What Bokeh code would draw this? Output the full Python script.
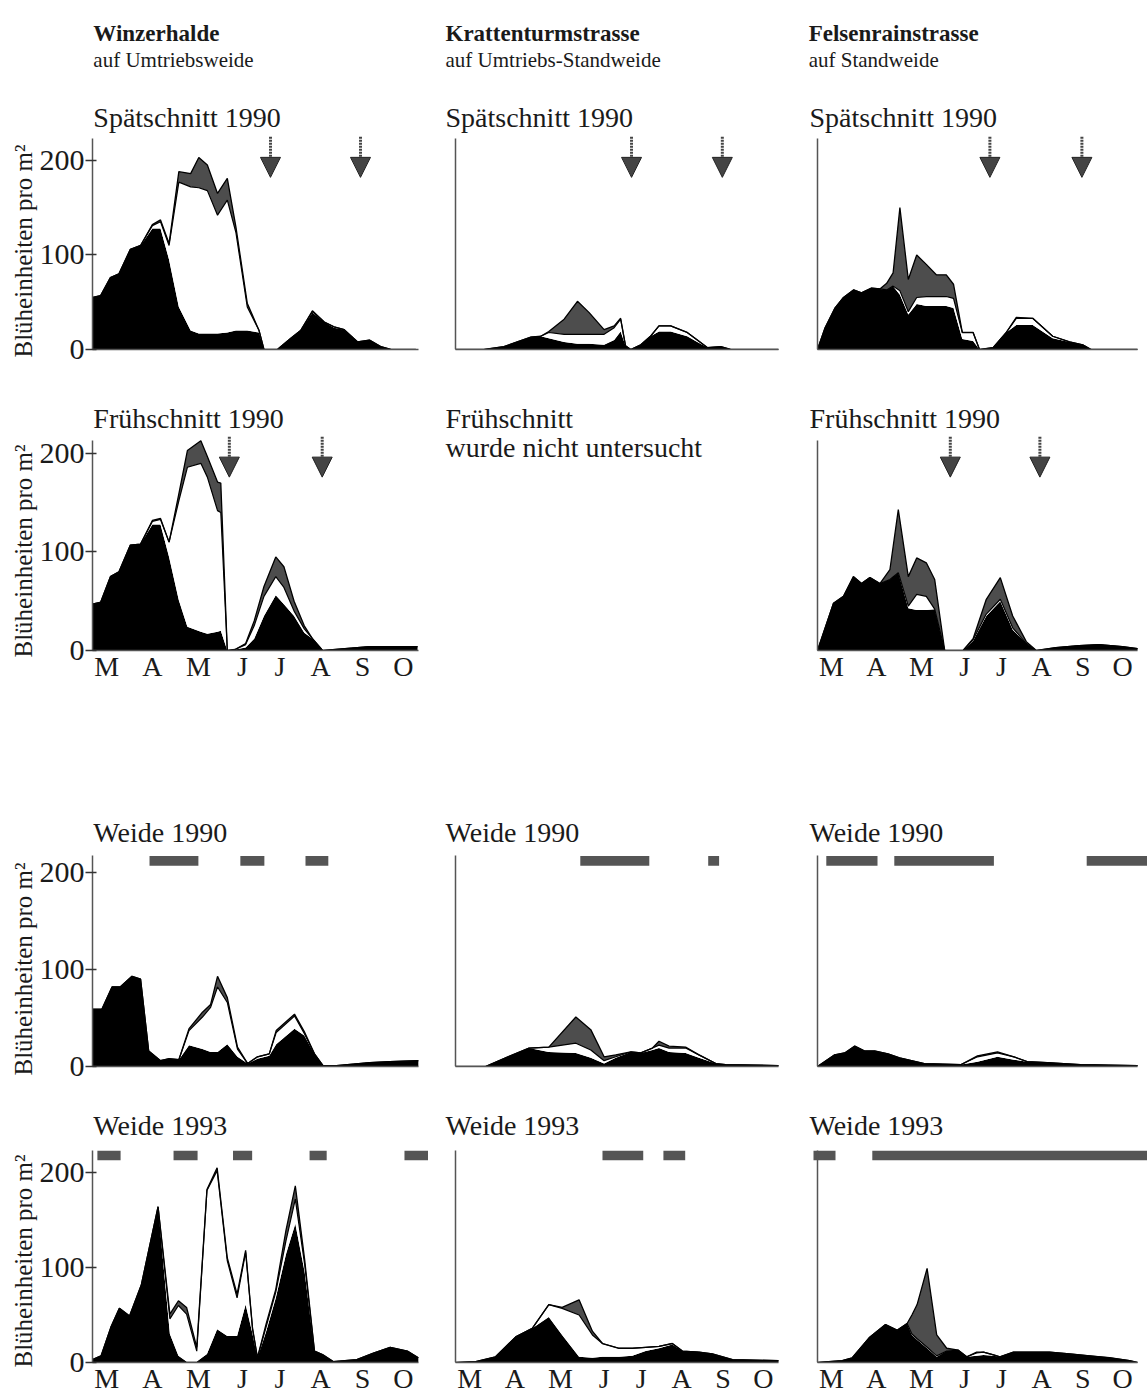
from bokeh.plotting import figure
from bokeh.models import (Range1d, FixedTicker, Label, Arrow, NormalHead, Title,
                          ColumnDataSource, Spacer)
from bokeh.layouts import column, row
from bokeh.embed import file_html
from bokeh.resources import INLINE

# ---------------- data (x in months from 1 March; values in Blüheinheiten pro m²) ----------------
months = ["M", "A", "M", "J", "J", "A", "S", "O"]
month_ticks = [0.35, 1.47, 2.6, 3.68, 4.6, 5.6, 6.63, 7.63]

sites = ["Winzerhalde", "Krattenturmstrasse", "Felsenrainstrasse"]
site_sub = ["auf Umtriebsweide", "auf Umtriebs-Standweide", "auf Standweide"]
y_label = "Blüheinheiten pro m²"

# Winzerhalde, Spätschnitt 1990
wz_sp_x = [0, 0.2, 0.44, 0.65, 0.93, 1.18, 1.47, 1.67, 1.88, 2.12, 2.41, 2.61, 2.82, 3.07, 3.31, 3.52,
           3.80, 4.09, 4.21, 4.54, 4.87, 5.11, 5.40, 5.69, 5.93, 6.18, 6.51, 6.80, 7.08, 7.33, 7.94]
wz_sp_black = [55, 57, 76, 80, 106, 110, 128, 128, 95, 45, 20, 17, 17, 17, 18, 20, 20, 18, 0, 0, 12, 20,
               39, 29, 23, 21, 8, 10, 3, 0, 0]
wz_sp_white = [0, 0, 0, 0, 0, 0, 3, 7, 15, 132, 152, 154, 151, 125, 140, 104, 25, 2, 0, 0, 0, 0, 1, 0, 1,
               0, 0, 0, 0, 0, 0]
wz_sp_grey = [0, 0, 0, 0, 0, 0, 1, 2, 2, 11, 14, 32, 27, 23, 23, 6, 4, 0, 0, 0, 0, 0, 1, 0, 0, 0, 0, 0, 0,
              0, 0]
wz_sp_cuts = [4.37, 6.58]

# Winzerhalde, Frühschnitt 1990
wz_fr_x = [0, 0.2, 0.44, 0.65, 0.93, 1.18, 1.47, 1.67, 1.88, 2.12, 2.33, 2.66, 2.82, 3.07, 3.15, 3.31, 3.5,
           3.76, 3.97, 4.21, 4.5, 4.7, 4.95, 5.2, 5.4, 5.65, 6.2, 6.8, 7.4, 7.98]
wz_fr_black = [47, 49, 75, 80, 107, 108, 128, 128, 95, 51, 24, 19, 17, 19, 20, 0, 1, 3, 12, 35, 56, 47, 35,
               18, 12, 0, 2, 4, 4, 4]
wz_fr_white = [0, 0, 0, 0, 0, 0, 3, 5, 15, 101, 162, 171, 159, 123, 120, 0, 0, 3, 13, 20, 19, 17, 5, 4, 0,
               0, 0, 0, 0, 0]
wz_fr_grey = [0, 0, 0, 0, 0, 0, 1, 1, 0, 7, 17, 23, 21, 29, 30, 0, 0, 1, 5, 10, 20, 21, 10, 3, 0, 0, 0, 0,
              0, 0]
wz_fr_cuts = [3.36, 5.64]

# Winzerhalde, Weide 1990
wz_w90_x = [0, 0.23, 0.48, 0.68, 0.97, 1.18, 1.38, 1.67, 1.88, 2.12, 2.37, 2.70, 2.90, 3.07, 3.31, 3.56,
            3.81, 4.05, 4.34, 4.51, 4.96, 5.2, 5.45, 5.66, 5.99, 6.81, 7.3, 8.0]
wz_w90_black = [59, 59, 82, 82, 93, 90, 16, 6, 8, 7, 22, 18, 15, 15, 23, 10, 3, 8, 11, 23, 39, 32, 13, 1,
                1, 4, 5, 6]
wz_w90_white = [0, 0, 0, 0, 0, 0, 0, 0, 0, 0, 15, 33, 46, 67, 43, 8, 0, 2, 2, 12, 13, 2, 0, 0, 0, 0, 0, 0]
wz_w90_grey = [0, 0, 0, 0, 0, 0, 0, 0, 0, 0, 2, 5, 3, 11, 5, 2, 0, 0, 0, 2, 2, 2, 0, 0, 0, 0, 0, 0]
wz_w90_graze = [(1.40, 2.60), (3.63, 4.22), (5.23, 5.79)]

# Winzerhalde, Weide 1993
wz_w93_x = [0, 0.21, 0.45, 0.66, 0.91, 1.2, 1.61, 1.9, 2.11, 2.31, 2.56, 2.81, 3.06, 3.31, 3.55, 3.76,
            3.93, 4.05, 4.26, 4.5, 4.75, 4.98, 5.21, 5.45, 5.66, 5.91, 6.49, 6.9, 7.31, 7.73, 8.0]
wz_w93_black = [3, 7, 37, 57, 49, 82, 164, 30, 7, 1, 1, 9, 35, 28, 28, 61, 30, 5, 32, 68, 114, 146, 95,
                12, 8, 1, 3, 10, 16, 12, 5]
wz_w93_white = [0, 0, 0, 0, 0, 0, 0, 16, 53, 50, 11, 172, 167, 79, 40, 55, 5, 0, 5, 6, 14, 26, 8, 0, 0, 0,
                0, 0, 0, 0, 0]
wz_w93_grey = [0, 0, 0, 0, 0, 0, 0, 5, 5, 7, 4, 1, 3, 3, 4, 2, 1, 0, 3, 3, 11, 14, 5, 0, 0, 0, 0, 0, 0, 0,
               0]
wz_w93_graze = [(0.12, 0.69), (1.99, 2.58), (3.45, 3.92), (5.33, 5.75), (7.66, 8.25)]

# Krattenturmstrasse, Spätschnitt 1990
kt_sp_x = [0, 0.7, 1.2, 1.53, 1.86, 2.11, 2.31, 2.69, 3.02, 3.31, 3.68, 3.93, 4.09, 4.21, 4.34, 4.59, 4.83,
           5.04, 5.33, 5.74, 5.99, 6.24, 6.57, 6.82, 8.0]
kt_sp_black = [0, 0, 3, 8, 13, 14, 12, 8, 6, 6, 5, 10, 19, 4, 0, 5, 14, 19, 19, 14, 8, 2, 3, 0, 0]
kt_sp_white = [0, 0, 0, 0, 0, 0, 6, 8, 10, 10, 11, 13, 13, 0, 0, 0, 0, 6, 6, 4, 2, 0, 0, 0, 0]
kt_sp_grey = [0, 0, 0, 0, 0, 0, 1, 16, 35, 23, 5, 2, 1, 0, 0, 0, 0, 0, 0, 0, 0, 0, 0, 0, 0]
kt_sp_cuts = [4.36, 6.61]

# Krattenturmstrasse, Weide 1990
kt_w90_x = [0, 0.74, 1.24, 1.82, 2.31, 2.98, 3.35, 3.68, 3.97, 4.34, 4.59, 4.88, 5.04, 5.29, 5.7, 6.03,
            6.45, 6.69, 8.0]
kt_w90_black = [0, 0, 9, 19, 15, 14, 9, 3, 9, 15, 14, 17, 19, 15, 14, 9, 3, 2, 1]
kt_w90_white = [0, 0, 0, 0, 5, 10, 8, 3, 1, 0, 0, 2, 3, 4, 5, 3, 0, 0, 0]
kt_w90_grey = [0, 0, 0, 0, 0, 27, 21, 4, 2, 0, 0, 0, 4, 2, 1, 0, 0, 0, 0]
kt_w90_graze = [(3.09, 4.80), (6.26, 6.53)]

# Krattenturmstrasse, Weide 1993
kt_w93_x = [0, 0.5, 0.99, 1.49, 1.9, 2.31, 2.64, 3.06, 3.39, 3.64, 4.05, 4.38, 4.71, 5.04, 5.37, 5.62, 6.03,
            6.36, 6.86, 8.0]
kt_w93_black = [0, 1, 6, 27, 36, 48, 29, 6, 5, 6, 6, 7, 12, 15, 19, 12, 11, 9, 3, 2]
kt_w93_white = [0, 0, 0, 0, 0, 13, 28, 44, 24, 14, 9, 8, 4, 2, 1, 0, 0, 0, 0, 0]
kt_w93_grey = [0, 0, 0, 0, 0, 0, 1, 16, 4, 0, 0, 0, 0, 0, 0, 0, 0, 0, 0, 0]
kt_w93_graze = [(3.64, 4.65), (5.15, 5.69)]

# Felsenrainstrasse, Spätschnitt 1990
fr_sp_x = [0, 0.19, 0.44, 0.65, 0.9, 1.1, 1.35, 1.56, 1.73, 1.89, 2.06, 2.27, 2.48, 2.72, 2.97, 3.22,
           3.40, 3.62, 3.89, 4.05, 4.39, 4.72, 4.97, 5.38, 5.88, 6.3, 6.63, 6.84, 8.0]
fr_sp_black = [0, 23, 44, 55, 63, 60, 65, 64, 63, 67, 58, 37, 48, 46, 46, 46, 44, 11, 9, 0, 2, 18, 26, 26,
               12, 8, 5, 0, 0]
fr_sp_white = [0, 0, 0, 0, 0, 0, 0, 0, 0, 0, 4, 3, 7, 10, 10, 10, 10, 7, 9, 0, 0, 0, 7, 7, 2, 0, 0, 0, 0]
fr_sp_grey = [0, 0, 0, 0, 0, 0, 0, 0, 7, 14, 88, 34, 45, 34, 23, 23, 15, 0, 0, 0, 0, 0, 1, 0, 0, 0, 0, 0,
              0]
fr_sp_cuts = [4.31, 6.61]

# Felsenrainstrasse, Frühschnitt 1990
fr_fr_x = [0, 0.4, 0.65, 0.9, 1.1, 1.31, 1.56, 1.81, 2.02, 2.27, 2.48, 2.72, 2.93, 3.18, 3.64, 3.89, 4.22,
           4.57, 4.88, 5.22, 5.47, 5.96, 6.54, 7.04, 7.62, 8.0]
fr_fr_black = [0, 48, 55, 75, 68, 74, 68, 72, 79, 43, 41, 41, 42, 0, 0, 10, 35, 50, 21, 7, 0, 3, 5, 6, 4, 2]
fr_fr_white = [0, 0, 0, 0, 0, 0, 0, 0, 0, 2, 16, 14, 0, 0, 0, 1, 2, 2, 2, 0, 0, 0, 0, 0, 0, 0]
fr_fr_grey = [0, 0, 0, 0, 0, 0, 0, 10, 64, 30, 37, 34, 30, 0, 0, 1, 15, 22, 12, 2, 0, 0, 0, 0, 0, 0]
fr_fr_cuts = [3.32, 5.56]

# Felsenrainstrasse, Weide 1990
fr_w90_x = [0, 0.43, 0.68, 0.93, 1.18, 1.43, 1.76, 2.05, 2.67, 3.59, 4.0, 4.5, 4.91, 5.24, 5.74, 6.57, 8.0]
fr_w90_black = [0, 12, 14, 21, 16, 16, 13, 9, 3, 2, 5, 10, 7, 5, 4, 2, 1]
fr_w90_white = [0, 0, 0, 0, 0, 0, 0, 0, 0, 0, 5, 4, 3, 0, 0, 0, 0]
fr_w90_grey = [0, 0, 0, 0, 0, 0, 0, 0, 0, 0, 1, 1, 0, 0, 0, 0, 0]
fr_w90_graze = [(0.22, 1.50), (1.92, 4.41), (6.73, 8.25)]

# Felsenrainstrasse, Weide 1993
fr_w93_x = [0, 0.62, 0.87, 1.29, 1.7, 1.99, 2.24, 2.36, 2.49, 2.74, 2.98, 3.23, 3.52, 3.73, 3.98, 4.15,
            4.4, 4.56, 4.9, 5.3, 5.8, 6.3, 6.8, 7.3, 7.8, 8.0]
fr_w93_black = [0, 2, 5, 26, 40, 34, 41, 29, 24, 15, 6, 12, 13, 6, 7, 8, 7, 6, 11, 11, 11, 9, 7, 5, 2, 0]
fr_w93_white = [0, 0, 0, 0, 0, 0, 0, 1, 1, 1, 1, 0, 0, 0, 3, 3, 1, 0, 0, 0, 0, 0, 0, 0, 0, 0]
fr_w93_grey = [0, 0, 0, 0, 0, 0, 0, 20, 36, 83, 22, 3, 0, 0, 1, 0, 0, 0, 0, 0, 0, 0, 0, 0, 0, 0]
fr_w93_graze = [(-0.1, 0.45), (1.37, 8.25)]

# ---------------- styling / layout ----------------
FONT = "Liberation Serif"
TXT = "#1a1a1a"
GREY = "#4d4d4d"
col_w = [428, 360, 359]
col_bl = [92, 15, 17]
col_x0 = [0.0, -0.3, -0.3]
row_h = [366, 324, 283, 313]
row_bb = [17, 40, 17, 34]
row_ytop = [369.0, 288.3, 274.2, 293.7]
row_axis_top = [223, 213, 217, 223]
row_title_y = [245.3, 235.5, 241.2, 249.5]
row_ylab_off = [-8, -7, -9, -5]
row_bar = [None, None, (207, 217), (213, 223)]
row_arrow = [(225, 182), (217, 176), None, None]
title_x = [0.02, -0.25, -0.2]
head_x = [0.02, -0.25, -0.22]


def add_label(p, x, y, text, size, bold=False):
    p.add_layout(Label(x=x, y=y, text=text, text_font=FONT, text_font_size=size,
                       text_font_style="bold" if bold else "normal", text_color=TXT,
                       text_align="left", text_baseline="middle"))


def make_panel(c, r, title, xs=None, black=None, white=None, grey=None,
               cuts=None, graze=None, show_months=False, empty_text=None):
    p = figure(width=col_w[c], height=row_h[r], x_range=Range1d(col_x0[c], 8.25),
               y_range=Range1d(0, row_ytop[r]), output_backend="svg", toolbar_location=None,
               min_border_left=col_bl[c], min_border_right=0, min_border_top=0,
               min_border_bottom=row_bb[r], outline_line_color=None,
               background_fill_color="white", border_fill_color="white")
    p.xgrid.visible = False
    p.ygrid.visible = False

    if empty_text is not None:
        p.xaxis.visible = False
        p.yaxis.visible = False
        add_label(p, title_x[c], row_title_y[r], empty_text[0], "28px")
        add_label(p, title_x[c], row_title_y[r] - 29.5, empty_text[1], "28px")
        return p

    xa = p.xaxis[0]
    xa.bounds = (0, 8)
    xa.ticker = FixedTicker(ticks=month_ticks if show_months else [])
    xa.major_label_overrides = {t: m for t, m in zip(month_ticks, months)}
    xa.major_tick_line_color = None
    xa.minor_tick_line_color = None
    xa.major_tick_out = 0
    xa.major_tick_in = 0
    xa.axis_line_color = "#555555"
    xa.axis_line_width = 1.5
    xa.major_label_text_font = FONT
    xa.major_label_text_font_size = "28px"
    xa.major_label_text_color = TXT
    xa.major_label_standoff = 0

    ya = p.yaxis[0]
    ya.bounds = (0, row_axis_top[r])
    ya.axis_line_color = "#555555"
    ya.axis_line_width = 1.5
    ya.minor_tick_line_color = None
    if c == 0:
        ya.ticker = FixedTicker(ticks=[0, 100, 200])
        ya.major_tick_in = 4
        ya.major_tick_out = 7
        ya.major_tick_line_color = "#333333"
        ya.major_tick_line_width = 1.5
        ya.major_label_text_font = FONT
        ya.major_label_text_font_size = "30px"
        ya.major_label_text_color = TXT
        ya.major_label_standoff = 1
        p.add_layout(Title(text=y_label, align="left", offset=row_ylab_off[r], standoff=0,
                           text_font=FONT, text_font_size="25px", text_font_style="normal",
                           text_color=TXT), "left")
    else:
        ya.fixed_location = 0
        ya.ticker = FixedTicker(ticks=[])
        ya.major_tick_line_color = None
        ya.major_tick_out = 0
        ya.major_tick_in = 0

    top_b = list(black)
    top_w = [b + w for b, w in zip(black, white)]
    top_g = [b + w + g for b, w, g in zip(black, white, grey)]
    src = ColumnDataSource(dict(x=xs, zero=[0] * len(xs), tb=top_b, tw=top_w, tg=top_g))
    p.varea(x="x", y1="zero", y2="tb", source=src, fill_color="black")
    p.varea(x="x", y1="tb", y2="tw", source=src, fill_color="white")
    p.varea(x="x", y1="tw", y2="tg", source=src, fill_color=GREY)
    p.line(x="x", y="tw", source=src, line_color="black", line_width=1.2)
    p.line(x="x", y="tg", source=src, line_color="black", line_width=1.3)

    if cuts:
        y0, y1 = row_arrow[r]
        asrc = ColumnDataSource(dict(x=cuts, y0=[y0] * len(cuts), y1=[y1] * len(cuts)))
        p.add_layout(Arrow(end=NormalHead(size=20, fill_color="#444444", line_color="#222222",
                                          line_width=1),
                           x_start="x", y_start="y0", x_end="x", y_end="y1", source=asrc,
                           line_color="#444444", line_width=3, line_dash="2 1"))
    if graze:
        bb, bt = row_bar[r]
        gsrc = ColumnDataSource(dict(left=[g[0] for g in graze], right=[g[1] for g in graze]))
        p.quad(left="left", right="right", bottom=bb, top=bt, source=gsrc,
               fill_color="#555555", line_color=None)

    add_label(p, title_x[c], row_title_y[r], title, "28px")
    if r == 0:
        add_label(p, head_x[c], 334, sites[c], "23px", bold=True)
        add_label(p, head_x[c], 305.6, site_sub[c], "21px")
    return p


f00 = make_panel(0, 0, "Spätschnitt 1990", wz_sp_x, wz_sp_black, wz_sp_white, wz_sp_grey, cuts=wz_sp_cuts)
f01 = make_panel(1, 0, "Spätschnitt 1990", kt_sp_x, kt_sp_black, kt_sp_white, kt_sp_grey, cuts=kt_sp_cuts)
f02 = make_panel(2, 0, "Spätschnitt 1990", fr_sp_x, fr_sp_black, fr_sp_white, fr_sp_grey, cuts=fr_sp_cuts)

f10 = make_panel(0, 1, "Frühschnitt 1990", wz_fr_x, wz_fr_black, wz_fr_white, wz_fr_grey,
                 cuts=wz_fr_cuts, show_months=True)
f11 = make_panel(1, 1, None, empty_text=("Frühschnitt", "wurde nicht untersucht"))
f12 = make_panel(2, 1, "Frühschnitt 1990", fr_fr_x, fr_fr_black, fr_fr_white, fr_fr_grey,
                 cuts=fr_fr_cuts, show_months=True)

f20 = make_panel(0, 2, "Weide 1990", wz_w90_x, wz_w90_black, wz_w90_white, wz_w90_grey, graze=wz_w90_graze)
f21 = make_panel(1, 2, "Weide 1990", kt_w90_x, kt_w90_black, kt_w90_white, kt_w90_grey, graze=kt_w90_graze)
f22 = make_panel(2, 2, "Weide 1990", fr_w90_x, fr_w90_black, fr_w90_white, fr_w90_grey, graze=fr_w90_graze)

f30 = make_panel(0, 3, "Weide 1993", wz_w93_x, wz_w93_black, wz_w93_white, wz_w93_grey,
                 graze=wz_w93_graze, show_months=True)
f31 = make_panel(1, 3, "Weide 1993", kt_w93_x, kt_w93_black, kt_w93_white, kt_w93_grey,
                 graze=kt_w93_graze, show_months=True)
f32 = make_panel(2, 3, "Weide 1993", fr_w93_x, fr_w93_black, fr_w93_white, fr_w93_grey,
                 graze=fr_w93_graze, show_months=True)

layout = column(row(f00, f01, f02), row(f10, f11, f12), Spacer(width=1147, height=110),
                row(f20, f21, f22), row(f30, f31, f32))

open("out.html", "w").write(file_html(layout, INLINE))
